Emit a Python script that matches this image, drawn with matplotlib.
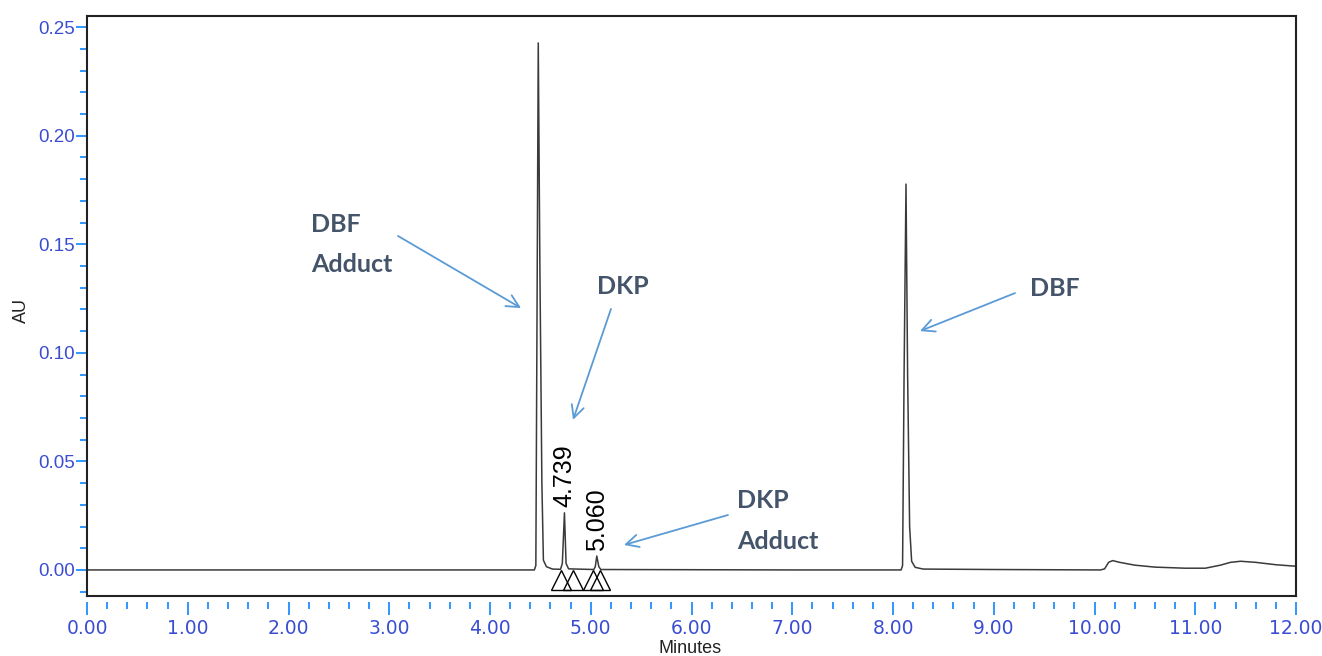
import matplotlib
matplotlib.use("Agg")
import matplotlib.pyplot as plt
from matplotlib.ticker import MultipleLocator, FormatStrFormatter
import numpy as np

# detector trace, minutes vs AU (apexes of the integrated peaks are added below)
trace_min = [0.00, 2.00, 4.44, 4.455, 4.465, 4.479, 4.495, 4.515, 4.530, 4.560,
             4.620, 4.700, 4.718, 4.755, 4.780, 5.030, 5.045, 5.080, 5.100,
             7.00, 8.080, 8.095, 8.110, 8.129, 8.145, 8.165, 8.185, 8.220,
             8.300, 9.000, 10.06, 10.10, 10.14, 10.18, 10.25, 10.40, 10.60,
             10.90, 11.10, 11.25, 11.35, 11.45, 11.60, 11.80, 12.00]
trace_au = [0.0000, 0.0000, 0.0000, 0.0020, 0.1000, 0.2427, 0.1400, 0.0400,
            0.0045, 0.0015, 0.0004, 0.0003, 0.0030, 0.0030, 0.0005, 0.0002,
            0.0015, 0.0015, 0.0002, 0.0000, 0.0000, 0.0020, 0.0900, 0.1777,
            0.0900, 0.0200, 0.0040, 0.0012, 0.0004, 0.0002, 0.0000, 0.0005,
            0.0035, 0.0043, 0.0035, 0.0022, 0.0013, 0.0008, 0.0008, 0.0022,
            0.0035, 0.0040, 0.0035, 0.0024, 0.0017]

# integrated peaks (retention time, apex height)
peak_rt = [4.739, 5.060]
peak_au = [0.0263, 0.0064]

# peak start / end markers
marker_min = [4.705, 4.824, 5.027, 5.092]

t = np.array(trace_min + peak_rt)
a = np.array(trace_au + peak_au)
order = np.argsort(t)
t, a = t[order], a[order]

tick_blue = "#1e8fff"
label_blue = "#3a4dd2"
note_col = "#44546a"
arrow_col = "#5b9bd5"
axis_font = ["Liberation Sans", "DejaVu Sans"]

fig = plt.figure(figsize=(13.22, 6.56), dpi=100)
ax = fig.add_axes([87 / 1322, 1 - 596 / 656, 1209 / 1322, 580 / 656])

ax.plot(t, a, color="#3a3a3a", lw=1.1)
ax.plot(marker_min, [-0.0045] * len(marker_min), ls="none", marker="^",
        ms=14, mfc="none", mec="black", mew=1.0)

for rt, h in zip(peak_rt, peak_au):
    ax.text(rt, h + 0.0025, f"{rt:.3f}", rotation=90, ha="center", va="bottom",
            fontsize=18, family=axis_font, color="black")

ax.set_xlim(0, 12)
ax.set_ylim(-0.012, 0.2551)

ax.xaxis.set_major_locator(MultipleLocator(1))
ax.xaxis.set_minor_locator(MultipleLocator(0.2))
ax.yaxis.set_major_locator(MultipleLocator(0.05))
ax.yaxis.set_minor_locator(MultipleLocator(0.01))
ax.xaxis.set_major_formatter(FormatStrFormatter("%.2f"))
ax.yaxis.set_major_formatter(FormatStrFormatter("%.2f"))

ax.tick_params(axis="x", which="major", length=9.4, width=1.3, color=tick_blue,
               labelcolor=label_blue, labelsize=13.5, pad=3)
ax.tick_params(axis="x", which="minor", length=5, width=1.3, color=tick_blue)
ax.tick_params(axis="y", which="major", length=8, width=1.3, color=tick_blue,
               labelcolor=label_blue, labelsize=13.5, pad=0.5)
ax.tick_params(axis="y", which="minor", length=5, width=1.3, color=tick_blue)
for lab in ax.get_xticklabels() + ax.get_yticklabels():
    lab.set_family(axis_font)

# x ticks sit a little below the frame
for side in ["top", "right", "left"]:
    ax.spines[side].set_linewidth(1.5)
    ax.spines[side].set_color("#222222")
ax.spines["bottom"].set_position(("outward", 4))
ax.spines["bottom"].set_visible(False)
ax.plot([0, 1], [0, 0], transform=ax.transAxes, color="#222222", lw=1.5,
        clip_on=False)

ax.set_xlabel("Minutes", fontsize=13, family=axis_font, color="#222222", va="center")
ax.xaxis.set_label_coords(0.4988, -0.0897)
ax.set_ylabel("AU", fontsize=13, family=axis_font, color="#222222", va="center")
ax.yaxis.set_label_coords(-0.0538, 0.493)

note = dict(fontsize=18, family=["Lato", "DejaVu Sans"], fontweight="bold",
            color=note_col, va="baseline", ha="left")
ax.text(2.223, 0.1554, "DBF", **note)
ax.text(2.223, 0.1370, "Adduct", **note)
ax.text(5.062, 0.1269, "DKP", **note)
ax.text(9.360, 0.1260, "DBF", **note)
ax.text(6.452, 0.0287, "DKP", **note)
ax.text(6.452, 0.0098, "Adduct", **note)

arrow = dict(arrowstyle="->,head_length=0.9,head_width=0.45", color=arrow_col,
             lw=1.3, shrinkA=0, shrinkB=0)
ax.annotate("", xy=(4.308, 0.1206), xytext=(3.087, 0.1538), arrowprops=arrow)
ax.annotate("", xy=(4.824, 0.0691), xytext=(5.201, 0.1202), arrowprops=arrow)
ax.annotate("", xy=(8.268, 0.1100), xytext=(9.211, 0.1275), arrowprops=arrow)
ax.annotate("", xy=(5.330, 0.0115), xytext=(6.362, 0.0253), arrowprops=arrow)

fig.savefig("out.png", dpi=100)
